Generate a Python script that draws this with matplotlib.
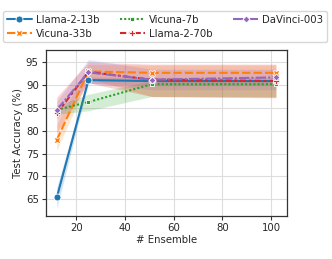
import matplotlib
matplotlib.use("Agg")
import matplotlib.pyplot as plt
import seaborn as sns

sns.set_style("whitegrid")
plt.rcParams['font.family'] = ['DejaVu Sans']

x = [12, 25, 51, 102]
models = ["Llama-2-13b", "Vicuna-33b", "Vicuna-7b", "Llama-2-70b", "DaVinci-003"]
means = {
    "Llama-2-13b": [65.4, 91.1, 90.9, 90.9],
    "Vicuna-33b": [78.0, 93.0, 92.7, 92.7],
    "Vicuna-7b": [84.6, 86.3, 90.2, 90.2],
    "Llama-2-70b": [83.8, 92.9, 91.2, 90.9],
    "DaVinci-003": [84.6, 92.8, 91.2, 91.7],
}
lows = {
    "Llama-2-13b": [63.0, 90.4, 90.0, 90.0],
    "Vicuna-33b": [75.7, 91.5, 87.5, 87.2],
    "Vicuna-7b": [83.6, 84.4, 87.5, 87.5],
    "Llama-2-70b": [79.6, 90.5, 87.5, 87.3],
    "DaVinci-003": [82.5, 90.5, 89.0, 89.0],
}
highs = {
    "Llama-2-13b": [67.6, 91.8, 91.7, 91.7],
    "Vicuna-33b": [81.5, 94.5, 94.4, 94.4],
    "Vicuna-7b": [85.6, 88.0, 91.0, 91.0],
    "Llama-2-70b": [87.4, 95.0, 94.6, 94.6],
    "DaVinci-003": [86.5, 95.6, 93.5, 93.5],
}

colors = ["#1f77b4", "#ff7f0e", "#2ca02c", "#d62728", "#9467bd"]
markers = ["o", "X", (4, 0, 45), "P", (4, 0, 0)]
dashes = [(None, None), (4, 1.5), (1, 1), (3, 1.25, 1.5, 1.25), (5, 1, 1, 1)]

fig = plt.figure(figsize=(3.32, 2.59), dpi=100)
ax = fig.add_axes([0.138, 0.167, 0.726, 0.640])

for m, c, mk, d in zip(models, colors, markers, dashes):
    ax.fill_between(x, lows[m], highs[m], color=c, alpha=0.2, linewidth=0)
    line, = ax.plot(x, means[m], color=c, marker=mk, markersize=5,
                    markeredgecolor="white", markeredgewidth=0.6,
                    linewidth=1.5, label=m)
    if d[0] is not None:
        line.set_dashes(d)

ax.set_xlim(7.5, 106.5)
ax.set_ylim(61.4, 97.7)
ax.set_xticks([20, 40, 60, 80, 100])
ax.set_yticks([65, 70, 75, 80, 85, 90, 95])
ax.tick_params(labelsize=7.3, length=3, width=0.8, color="#333333", pad=2)
for s in ax.spines.values():
    s.set_color("#333333")
    s.set_linewidth(0.9)
ax.tick_params(axis="both", which="both", bottom=True, left=True)
ax.grid(True, color="#dddddd", linewidth=0.8)
ax.set_xlabel("# Ensemble", fontsize=7.3, labelpad=2)
ax.set_ylabel("Test Accuracy (%)", fontsize=7.3, labelpad=2)

fig.legend(loc="upper center", bbox_to_anchor=(0.497, 0.957), ncol=3,
           fontsize=7.3, frameon=True, handlelength=2.5, columnspacing=2.0,
           handletextpad=0.4, borderpad=0.35, labelspacing=0.4,
           borderaxespad=0)

fig.savefig("out.png", dpi=100)
